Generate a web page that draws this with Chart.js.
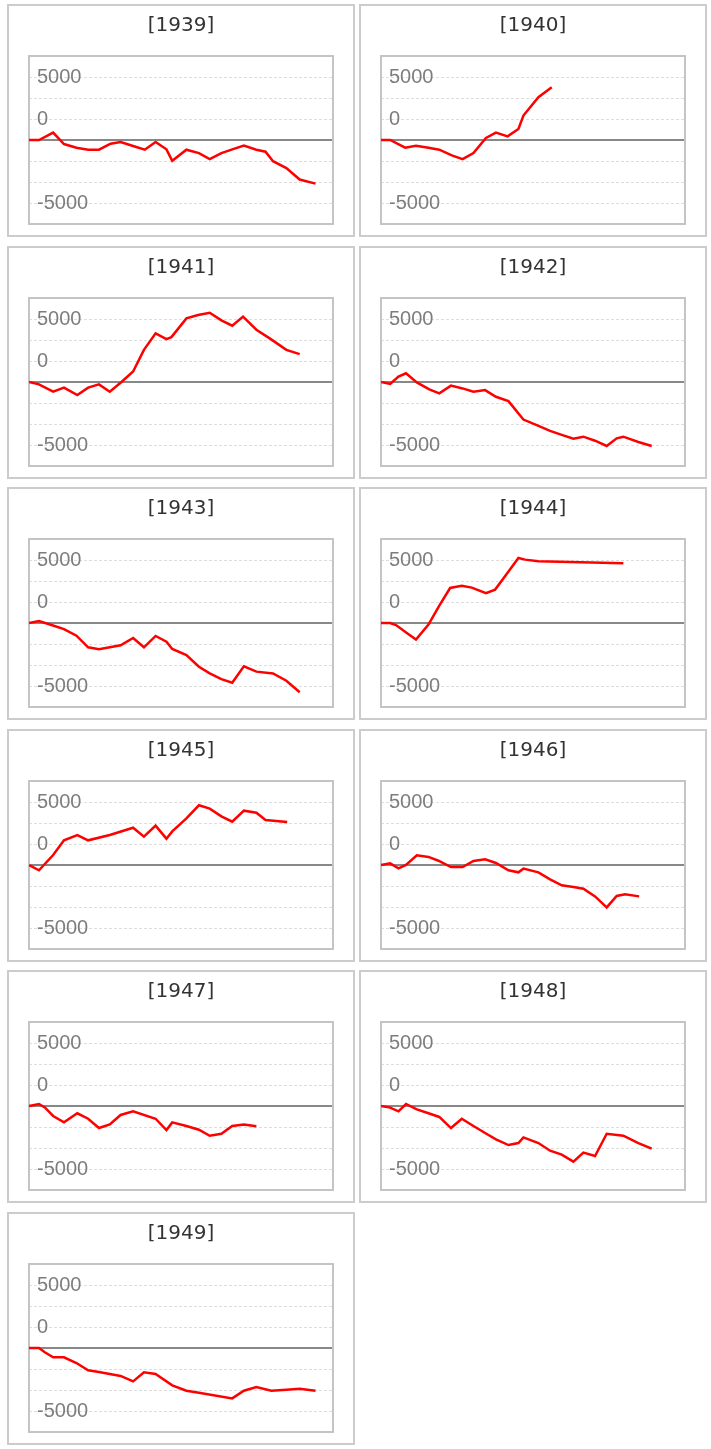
<!DOCTYPE html>
<html>
<head>
<meta charset="utf-8">
<script src="https://cdn.jsdelivr.net/npm/chart.js@4/dist/chart.umd.min.js"></script>
<style>
  body { margin: 0; background: #fff; }
  .panel { position: absolute; width: 344px; height: 229px; border: 2px solid #cccccc; background: #fff; }
  .panel canvas { display: block; }
</style>
</head>
<body>
<div id="wrap"></div>
<script>
// years shown, one small chart each
const years = ['1939', '1940', '1941', '1942', '1943', '1944', '1945', '1946', '1947', '1948', '1949'];

// x = day of the year, y = running value
const days1939 = [0, 12, 29, 42, 57, 71, 84, 98, 110, 125, 139, 152, 165, 172, 189, 204, 217, 231, 245, 258, 273, 284, 293, 309, 325, 344];
const vals1939 = [0, 0, 590, -320, -610, -770, -770, -290, -160, -480, -770, -160, -740, -1650, -770, -1040, -1520, -1040, -720, -450, -770, -930, -1680, -2230, -3140, -3460];

const days1940 = [0, 11, 29, 42, 57, 70, 85, 98, 111, 126, 138, 152, 165, 171, 189, 205];
const vals1940 = [0, 0, -610, -450, -610, -770, -1220, -1520, -1040, 160, 590, 290, 880, 1940, 3400, 4180];

const days1941 = [0, 12, 29, 42, 58, 71, 84, 97, 111, 125, 138, 152, 165, 171, 189, 203, 217, 231, 244, 257, 273, 289, 309, 325];
const vals1941 = [0, -190, -770, -450, -1040, -450, -190, -770, 0, 830, 2550, 3860, 3400, 3560, 5050, 5320, 5500, 4890, 4470, 5190, 4150, 3460, 2550, 2210];

const days1942 = [0, 11, 21, 30, 43, 58, 70, 84, 98, 111, 125, 138, 153, 171, 187, 203, 217, 231, 243, 257, 271, 283, 291, 309, 325];
const vals1942 = [0, -160, 430, 690, -30, -590, -900, -290, -510, -770, -640, -1170, -1520, -2980, -3430, -3880, -4200, -4500, -4340, -4660, -5080, -4470, -4340, -4760, -5080];

const days1943 = [0, 12, 27, 42, 57, 71, 84, 97, 110, 125, 138, 152, 165, 172, 189, 204, 217, 231, 244, 258, 273, 293, 309, 325];
const vals1943 = [0, 160, -160, -480, -1010, -1930, -2090, -1930, -1770, -1190, -1930, -1030, -1480, -2060, -2540, -3470, -4000, -4450, -4740, -3440, -3860, -4000, -4580, -5500];

const days1944 = [0, 11, 18, 31, 42, 57, 70, 83, 97, 109, 126, 137, 150, 165, 173, 189, 291];
const vals1944 = [0, 0, -160, -790, -1320, -130, 1380, 2780, 2960, 2810, 2360, 2650, 3810, 5160, 5030, 4900, 4740];

const days1945 = [0, 12, 29, 42, 58, 71, 97, 125, 138, 152, 165, 172, 189, 204, 217, 231, 244, 258, 273, 284, 310];
const vals1945 = [0, -420, 790, 1960, 2380, 1960, 2380, 2960, 2250, 3120, 2090, 2670, 3700, 4740, 4470, 3860, 3440, 4310, 4150, 3570, 3410];

const days1946 = [0, 11, 21, 30, 43, 57, 69, 84, 98, 111, 125, 138, 153, 165, 171, 189, 203, 217, 231, 243, 257, 271, 283, 293, 310];
const vals1946 = [0, 130, -270, 0, 770, 640, 340, -160, -160, 320, 450, 160, -420, -580, -290, -580, -1140, -1610, -1750, -1880, -2490, -3360, -2460, -2330, -2490];

const days1947 = [0, 12, 19, 29, 42, 58, 71, 84, 97, 110, 125, 152, 165, 172, 189, 204, 217, 231, 244, 258, 273];
const vals1947 = [0, 160, -110, -790, -1300, -580, -1010, -1750, -1460, -710, -420, -1010, -1910, -1300, -1590, -1880, -2360, -2200, -1590, -1460, -1610];

const days1948 = [0, 11, 21, 30, 43, 57, 70, 84, 97, 111, 125, 138, 153, 165, 171, 189, 203, 217, 231, 243, 257, 271, 291, 309, 325];
const vals1948 = [0, -130, -420, 160, -270, -580, -870, -1750, -1010, -1590, -2140, -2650, -3100, -2940, -2490, -2940, -3550, -3860, -4420, -3700, -3970, -2200, -2360, -2940, -3390];

const days1949 = [0, 12, 19, 29, 42, 57, 71, 84, 97, 110, 125, 138, 152, 172, 189, 204, 244, 258, 273, 291, 309, 325, 344];
const vals1949 = [0, 0, -340, -740, -740, -1190, -1770, -1910, -2060, -2220, -2650, -1930, -2060, -2960, -3390, -3550, -4000, -3390, -3100, -3390, -3310, -3230, -3390];

const allDays = [days1939, days1940, days1941, days1942, days1943, days1944, days1945, days1946, days1947, days1948, days1949];
const allVals = [vals1939, vals1940, vals1941, vals1942, vals1943, vals1944, vals1945, vals1946, vals1947, vals1948, vals1949];

// y axis: grid every 5000/3, labels as printed on the original
const yMin = -20000 / 3;
const yMax = 20000 / 3;
const yTickValues = [-5000, -10000 / 3, -5000 / 3, 0, 5000 / 3, 10000 / 3, 5000];
const yTickLabels = ['-5000', '', '', '', '0', '', '5000'];

const frame = {
    id: 'frame',
    beforeDatasetsDraw(chart) {
        const { ctx, chartArea } = chart;
        ctx.save();
        ctx.strokeStyle = '#c4c4c4';
        ctx.lineWidth = 2;
        ctx.strokeRect(chartArea.left, chartArea.top, chartArea.width, chartArea.height);
        ctx.restore();
    }
};

const wrap = document.getElementById('wrap');

for (let i = 0; i < years.length; i++) {
    const col = i % 2;
    const row = Math.floor(i / 2);
    const panel = document.createElement('div');
    panel.className = 'panel';
    panel.style.left = (7 + col * 352) + 'px';
    panel.style.top = Math.round(4 + row * 241.6) + 'px';
    const canvas = document.createElement('canvas');
    canvas.width = 344;
    canvas.height = 229;
    panel.appendChild(canvas);
    wrap.appendChild(panel);

    const points = allDays[i].map((d, k) => ({ x: d, y: allVals[i][k] }));

    new Chart(canvas, {
        type: 'line',
        data: {
            datasets: [{
                data: points,
                borderColor: '#ff0000',
                borderWidth: 2.5,
                pointRadius: 0,
                tension: 0,
                fill: false
            }]
        },
        options: {
            responsive: false,
            animation: false,
            devicePixelRatio: 1,
            layout: { padding: { left: 20, right: 20, top: 0, bottom: 11 } },
            plugins: {
                legend: { display: false },
                tooltip: { enabled: false },
                title: {
                    display: true,
                    text: '[' + years[i] + ']',
                    color: '#333333',
                    font: { family: "'DejaVu Sans', sans-serif", size: 20, weight: 'normal' },
                    padding: { top: 8, bottom: 18 }
                }
            },
            scales: {
                x: { type: 'linear', min: 0, max: 365, display: false },
                y: {
                    min: yMin,
                    max: yMax,
                    afterBuildTicks: scale => {
                        scale.ticks = yTickValues.map(v => ({ value: v }));
                    },
                    afterFit: scale => {
                        scale.width = 0;
                        scale.paddingTop = 0;
                        scale.paddingBottom = 0;
                    },
                    grid: {
                        drawTicks: false,
                        color: ctx => ctx.tick && ctx.tick.value === 0 ? '#888888' : '#dddddd',
                        lineWidth: ctx => ctx.tick && ctx.tick.value === 0 ? 2 : 1
                    },
                    border: {
                        display: false,
                        dash: ctx => ctx.tick && ctx.tick.value === 0 ? [] : [3, 2]
                    },
                    ticks: {
                        mirror: true,
                        padding: 8,
                        color: '#7d7d7d',
                        font: { family: "'Liberation Sans', Arial, sans-serif", size: 20 },
                        callback: (value, index) => yTickLabels[index]
                    }
                }
            }
        },
        plugins: [frame]
    });
}
</script>
</body>
</html>
